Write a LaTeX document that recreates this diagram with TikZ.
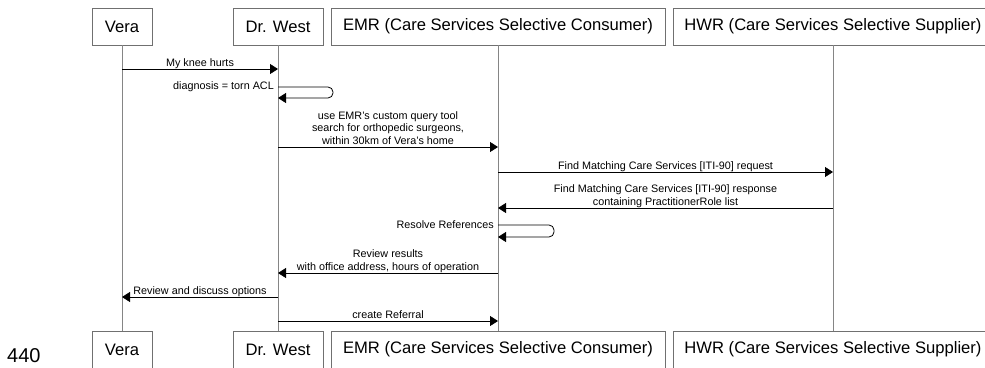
\documentclass[tikz,border=0pt]{standalone}
\usepackage{fontspec}
\setmainfont{Liberation Sans}
\usetikzlibrary{arrows.meta}
\definecolor{boxgray}{HTML}{707070}
\definecolor{lifegray}{HTML}{858585}
\begin{document}
\begin{tikzpicture}[x=1pt,y=-1pt,
  actor/.style={draw=boxgray, line width=0.8pt, fill=white, minimum height=37pt, inner sep=0pt, font=\fontsize{16.6}{19}\selectfont},
  lifeline/.style={draw=lifegray, line width=0.8pt},
  msg/.style={draw=black, line width=0.8pt, -{Triangle[length=8pt,width=10pt]}},
  lbl/.style={anchor=south, inner sep=0pt, text depth=2.5pt, align=center, font=\fontsize{10.8}{12.5}\selectfont},
  selflbl/.style={anchor=east, inner sep=0pt, xshift=-4pt, font=\fontsize{10.8}{12.5}\selectfont}]
\useasboundingbox (0,0) rectangle (985,367);
\clip (0,0) rectangle (985,367);
% top actors
\node[actor, minimum width=60pt]  (veraT) at (122,26.5) {Vera};
\node[actor, minimum width=90pt]  (westT) at (278,26.5) {Dr. West};
\node[actor, minimum width=334pt] (emrT)  at (498,26.5) {EMR (Care Services Selective Consumer)};
\node[actor, minimum width=320pt] (hwrT)  at (833,26.5) {HWR (Care Services Selective Supplier)};
% bottom actors
\node[actor, minimum width=60pt]  (veraB) at (122,349.5) {Vera};
\node[actor, minimum width=90pt]  (westB) at (278,349.5) {Dr. West};
\node[actor, minimum width=334pt] (emrB)  at (498,349.5) {EMR (Care Services Selective Consumer)};
\node[actor, minimum width=320pt] (hwrB)  at (833,349.5) {HWR (Care Services Selective Supplier)};
% lifelines
\draw[lifeline] (veraT) -- (veraB);
\draw[lifeline] (westT) -- (westB);
\draw[lifeline] (emrT) -- (emrB);
\draw[lifeline] (hwrT) -- (hwrB);
% messages
\draw[msg] (veraT.south |- 0,69) -- (westT.south |- 0,69) node[lbl, pos=0.5] {My knee hurts};
\draw[msg, rounded corners=5pt] (westT.south |- 0,87) -- (333,87) -- (333,98) -- (westT.south |- 0,98);
\node[selflbl] (diag) at (westT.south |- 0,87) {diagnosis = torn ACL};
\draw[msg] (westT.south |- 0,147) -- (emrT.south |- 0,147) node[lbl, pos=0.5] {use EMR's custom query tool\\search for orthopedic surgeons,\\within 30km of Vera's home};
\draw[msg] (emrT.south |- 0,172) -- (hwrT.south |- 0,172) node[lbl, pos=0.5] {Find Matching Care Services [ITI-90] request};
\draw[msg] (hwrT.south |- 0,208) -- (emrT.south |- 0,208) node[lbl, pos=0.5] {Find Matching Care Services [ITI-90] response\\containing PractitionerRole list};
\draw[msg, rounded corners=5pt] (emrT.south |- 0,225) -- (554,225) -- (554,237) -- (emrT.south |- 0,237);
\node[selflbl] (resolve) at (emrT.south |- 0,225) {Resolve References};
\draw[msg] (emrT.south |- 0,273) -- (westT.south |- 0,273) node[lbl, pos=0.5] {Review results\\with office address, hours of operation};
\draw[msg] (westT.south |- 0,297) -- (veraT.south |- 0,297) node[lbl, pos=0.5] {Review and discuss options};
\draw[msg] (westT.south |- 0,321) -- (emrT.south |- 0,321) node[lbl, pos=0.5] {create Referral};
% page number
\node[anchor=base west, inner sep=0pt, font=\fontsize{20}{20}\selectfont] (num) at (7,362.5) {440};
\end{tikzpicture}
\end{document}
